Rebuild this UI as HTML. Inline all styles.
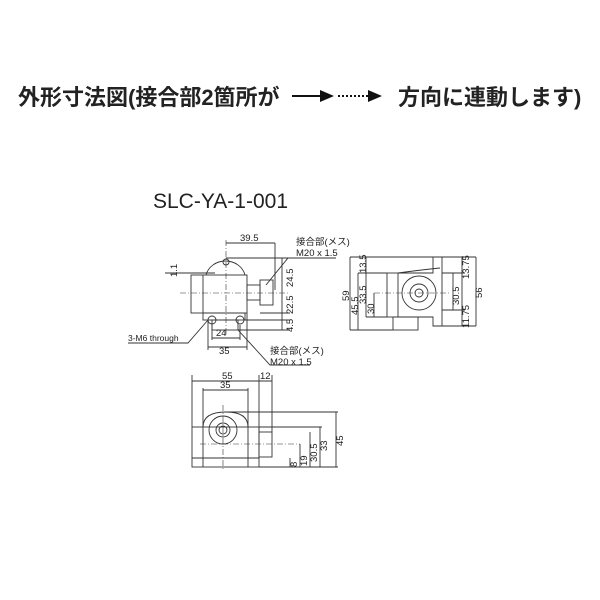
<!DOCTYPE html>
<html><head><meta charset="utf-8"><style>
html,body{margin:0;padding:0;background:#fff;width:600px;height:600px;overflow:hidden}
svg{display:block}
text{font-family:"Liberation Sans","Noto Sans CJK JP",sans-serif;fill:#222}
</style></head><body>
<svg width="600" height="600" viewBox="0 0 600 600" xmlns="http://www.w3.org/2000/svg">
<text x="18" y="105" font-size="22" font-weight="bold" fill="#111">外形寸法図(接合部2箇所が</text>
<line x1="292" y1="96" x2="322" y2="96" stroke="#111" stroke-width="2"/>
<polygon points="320,90 334,96 320,102" fill="#111"/>
<line x1="338" y1="96" x2="368" y2="96" stroke="#111" stroke-width="2" stroke-dasharray="2,2"/>
<polygon points="368,90 382,96 368,102" fill="#111"/>
<text x="398" y="105" font-size="22" font-weight="bold" fill="#111">方向に連動します)</text>
<text x="153" y="208" font-size="21">SLC-YA-1-001</text>

<g stroke="#333" stroke-width="0.9" fill="none">
<rect x="191" y="275" width="56" height="38"/>
<line x1="203" y1="275" x2="203" y2="313"/>
<path d="M206,275 A20,18 0 0 1 245,275"/>
<circle cx="226" cy="262" r="3"/>
<rect x="247" y="285" width="13" height="15"/>
<rect x="260" y="280" width="13" height="25"/>
<rect x="203" y="313" width="42" height="7"/>
<rect x="212" y="320" width="26" height="10"/>
<circle cx="212" cy="320" r="4"/><circle cx="240" cy="320" r="4"/>
<line x1="180" y1="293" x2="290" y2="293" stroke-dasharray="6,2,1,2" stroke-width="0.6"/>
<line x1="226" y1="240" x2="226" y2="335" stroke-dasharray="6,2,1,2" stroke-width="0.6"/>
<line x1="226" y1="243" x2="275" y2="243"/><line x1="275" y1="243" x2="275" y2="290"/>
<line x1="226" y1="258" x2="290" y2="258"/>
<line x1="282" y1="258" x2="282" y2="330"/>
<line x1="260" y1="313" x2="290" y2="313"/><line x1="245" y1="320" x2="290" y2="320"/><line x1="238" y1="330" x2="290" y2="330"/>
<line x1="165" y1="273" x2="215" y2="273"/>
<line x1="208" y1="320" x2="208" y2="350"/><line x1="247" y1="313" x2="247" y2="350"/>
<line x1="208" y1="347" x2="247" y2="347"/>
<line x1="212" y1="325" x2="212" y2="340"/><line x1="240" y1="325" x2="240" y2="340"/>
<line x1="212" y1="338" x2="240" y2="338"/>
<polyline points="128,343 188,343 208,320"/>
<polyline points="266,285 288,258 336,258"/>
<polyline points="238,330 270,365 310,365"/>
<rect x="387" y="273" width="11" height="44"/>
<path d="M398,273 L433,273 L433,257 L442,257 L442,326 L433,326 L433,317 L398,317"/>
<path d="M398,273 Q420,270 440,268"/>
<rect x="393" y="317" width="25" height="13"/>
<circle cx="419" cy="293" r="17"/><circle cx="419" cy="293" r="9"/><circle cx="419" cy="293" r="4"/>
<line x1="350" y1="257" x2="442" y2="257"/>
<line x1="350" y1="330" x2="393" y2="330"/>
<line x1="350" y1="257" x2="350" y2="330"/>
<line x1="358" y1="273" x2="358" y2="330"/>
<line x1="366" y1="257" x2="366" y2="317"/>
<line x1="374" y1="293" x2="374" y2="317"/>
<line x1="358" y1="273" x2="387" y2="273"/><line x1="366" y1="317" x2="387" y2="317"/>
<line x1="374" y1="293" x2="450" y2="293" stroke-dasharray="6,2,1,2" stroke-width="0.6"/>
<line x1="442" y1="257" x2="476" y2="257"/><line x1="442" y1="326" x2="476" y2="326"/>
<line x1="442" y1="273" x2="465" y2="273"/><line x1="442" y1="310" x2="465" y2="310"/>
<line x1="462" y1="257" x2="462" y2="326"/><line x1="476" y1="257" x2="476" y2="326"/>
<line x1="453" y1="273" x2="453" y2="310"/>
<rect x="192" y="427" width="67" height="40"/>
<path d="M203,467 L203,427 Q203,412 226,412 Q248,412 248,427 L248,467"/>
<circle cx="223" cy="430" r="14"/><circle cx="223" cy="430" r="7"/><circle cx="223" cy="430" r="4"/>
<rect x="259" y="432" width="13" height="25"/>
<line x1="192" y1="458" x2="259" y2="458"/>
<line x1="192" y1="375" x2="192" y2="427"/><line x1="259" y1="375" x2="259" y2="432"/><line x1="272" y1="375" x2="272" y2="432"/>
<line x1="192" y1="381" x2="272" y2="381"/>
<line x1="203" y1="388" x2="203" y2="427"/><line x1="248" y1="388" x2="248" y2="427"/>
<line x1="203" y1="390" x2="248" y2="390"/>
<line x1="223" y1="405" x2="223" y2="470" stroke-dasharray="6,2,1,2" stroke-width="0.6"/>
<line x1="200" y1="444" x2="300" y2="444" stroke-dasharray="6,2,1,2" stroke-width="0.6"/>
<line x1="226" y1="412" x2="338" y2="412"/><line x1="259" y1="427" x2="322" y2="427"/>
<line x1="259" y1="467" x2="338" y2="467"/>
<line x1="336" y1="412" x2="336" y2="467"/><line x1="320" y1="427" x2="320" y2="467"/>
<line x1="310" y1="432" x2="310" y2="467"/><line x1="300" y1="444" x2="300" y2="467"/>
<line x1="290" y1="458" x2="290" y2="467"/>
</g>
<g font-size="9.5">
<text x="240" y="241">39.5</text>
<text x="296" y="245">接合部(メス)</text>
<text x="296" y="256">M20 x 1.5</text>
<text x="128" y="341" font-size="8.5">3-M6 through</text>
<text x="216" y="336">24</text>
<text x="219" y="354">35</text>
<text x="270" y="354">接合部(メス)</text>
<text x="270" y="365">M20 x 1.5</text>
<text transform="translate(177,277) rotate(-90)">1.1</text>
<text transform="translate(293,287) rotate(-90)">24.5</text>
<text transform="translate(293,314) rotate(-90)">22.5</text>
<text transform="translate(293,332) rotate(-90)">4.5</text>
<text transform="translate(349,301) rotate(-90)">59</text>
<text transform="translate(358,315) rotate(-90)">45.5</text>
<text transform="translate(366,304) rotate(-90)">33.5</text>
<text transform="translate(374,314) rotate(-90)">30</text>
<text transform="translate(366,273) rotate(-90)">13.5</text>
<text transform="translate(469,279) rotate(-90)">13.75</text>
<text transform="translate(459,305) rotate(-90)">30.5</text>
<text transform="translate(469,328) rotate(-90)">11.75</text>
<text transform="translate(482,298) rotate(-90)">56</text>
<text x="222" y="379">55</text>
<text x="260" y="379">12</text>
<text x="220" y="388">35</text>
<text transform="translate(343,446) rotate(-90)">45</text>
<text transform="translate(327,451) rotate(-90)">33</text>
<text transform="translate(317,462) rotate(-90)">30.5</text>
<text transform="translate(307,466) rotate(-90)">19</text>
<text transform="translate(297,467) rotate(-90)">8</text>
</g>
</svg>
</body></html>
